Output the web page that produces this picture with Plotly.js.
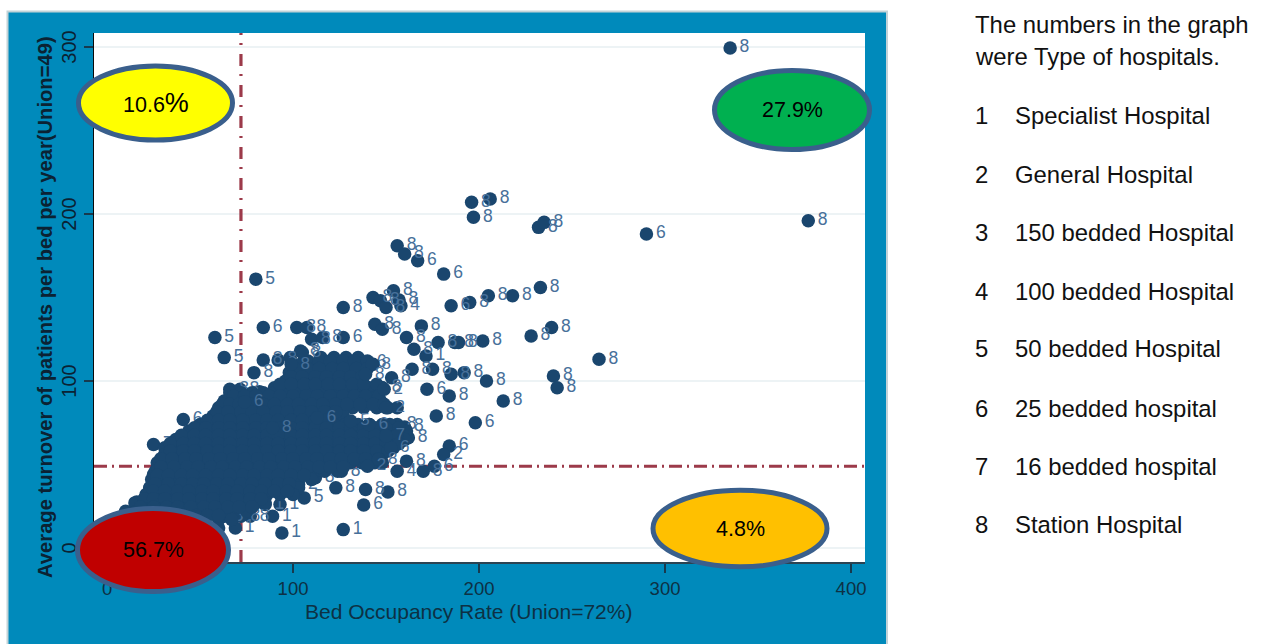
<!DOCTYPE html>
<html>
<head>
<meta charset="utf-8">
<script src="https://cdn.plot.ly/plotly-3.0.1.min.js"></script>
<style>html,body{margin:0;padding:0;background:#fff}</style>
</head>
<body>
<div id="chart" style="width:1264px;height:644px"></div>
<script>
// Isolated and edge points: occupancy, turnover, hospital type
const labelledX = [335,377,290,196,206,197,232,235,156,160,167,181,80,233,205,218,195,185,127,154,143,147,150,157,158,144,148,169,161,239,228,127,178,187,189,202,165,171.5,264.5,164,175,185,192,204,240,242,172,184,213,177,198,184,181,161,156,170,176,123,139,151,126,153,156,160,162,138,106,127,94,89,93,85,69,77,72,63,112,103,84,58,63,79,102,107.5,110,116,104,84,92,98.5,25,41,32,40,49,54,60,27,25,23,16,66,71.5,82,140,148,152];
const labelledY = [299.4,196,188,207,209,198,192,195,181,176,172,164,161,156,151,151,147,145,144,154,150,148,144,148.5,145,134,131,133,126,132,127,126,123,123,123,124,119,115,113,107,107,104,105,100,103,96,95,91,88,79,75,61,56,52,46,46,49,36,35,33.5,46,102,74,72.5,66,25.7,30,11,9,19,26,26,12,19,19,19,42,38,132,126,114,105,132,132,125,126,118,112.5,112.5,114,62,77,57.5,65,63.5,75,81,48,44,36,27.5,95,95,93.5,111,96,63];
const labelledType = ['8','8','6','8','8','8','8','8','8','8','6','6','5','8','8','8','8','6','8','8','8','8','8','8','4','8','8','8','8','8','8','6','8','8','8','8','8','1','8','8','8','8','8','8','8','8','6','8','8','8','6','6','2','8','4','8','6','8','8','8','8','8','8','8','8','6','5','1','1','1','1','1','1','8','8','8','8','2','6','5','5','8','8','8','8','8','8','8','8','8','7','6','2','7','6','6','6','8','8','8','8','8','8','6','6','8','6','2','6'];

// Dense cloud below the union-average lines, read row by row
const denseRowY = [114,110,105,100,96,93,88,84,79,74,70,65,60,56,51,46,41,36,32,27,22,17,12,
 112,107.5,102.5,98,91,86,81.5,76.5,72,67.5,62.5,58,53.5,48.5,43.5,38.5,34,29.5,24.5,19.5];
const denseRowX = [
 [115,122,128.5,135],
 [104,110.5,117,123.5,130,137,143],
 [98,105,111,118.5,124,131,137.5],
 [96,102.5,109,115,122,128,134],
 [90,96,103,109.5,116,122,129,135,141,148],
 [66,72,78,84,90,97,104,110,117,123.5,130,136,143],
 [63,69,76,82.5,89,95,102,108,115,121,128,134,141,147],
 [60,67,73,79,86,92,99,105,112,118,125,132,138,145,151,156],
 [57,63,70,76,83,89.5,96,102,109,115,122,127],
 [50,57,63,70,76,83,89,96,102,109,115.5,122,128,135,141,148,152],
 [44,50,57,63,70,76.5,83,89,96,102,109,115,122,128,134,141,147,153,161],
 [37,43,50,56,63,69,76,82,89,95,102,108,115,121,128,134.5,141,147,153,160],
 [31,38,44,50,57,63,70,76,83,89,96,102,109,115,122,128,135,141,148,154],
 [31,37,44,50.5,57,63,70,76,83,89,96.5,102,109,115,122,128,135,141,148],
 [27,33,40,46,53,59,66,72,79,85,92,98,105,111,118,124,131,137,144,148],
 [26,33,39,46,52,59,65,72,78,85,91,98,104,111,117,124],
 [24,30,37,43,50,56,63,69,76,82,89,95,102,110],
 [23,29,36,42,49,55,62,68,75,81,88,95,103],
 [21,28,34,41,47,54,60,67,73,80,86,93,100],
 [15,22,28,35,41,48,54,61,67,74,80,85],
 [10,16,23,29,36,42,49,55,62,68,75],
 [7,13,20,26,33,39,46,52,60,67],
 [7,13,20,26,33,40,50,60],
 [108,114,120,127,133,140],
 [101,108,114,121,127,134,140],
 [99,105,112,118,125,131,137],
 [93,99,106,112,119,125,132,138,145],
 [68,74,80,87,93,100,107,113,120,127,133,139,146],
 [62,66,71,77,84,90,97,103,110,116,123,129,136,143,149],
 [59,65,72,78,84,91,97,104,110,117,123],
 [54,60,66,73,80,86,92,99,105,112,118],
 [47,53,60,66,73,80,86,92,99,105,112,118,125,131,138,144,150,157],
 [40,47,53,60,66,73,79,86,92,99,105,112,118,125,131,138,144,150,156],
 [34,41,47,53,60,66,73,79,86,92,99,105,112,118,125,131,138,144,150,157],
 [34,41,47,54,60,66,73,79,86,92,99,105,112,118,125,131,138,145,151],
 [29,35,42,48,55,61,68,74,81,87,94,100,107,113,120,126,133,139,146],
 [29,36,43,49,56,62,69,75,82,88,95,101,108,114,120,127],
 [27,33,40,46,53,60,66,73,79,86,92,99,106],
 [26,33,40,46,52,59,65,72,78,85,92,98],
 [25,31,38,44,51,57,64,70,77,83,90,97],
 [20,25,31,38,44,51,57,64,70,77,83],
 [18,25,32,38,45,52,58,65,71,78],
 [15,22,28,35,41,48,54,60]
];

// Labels that show through the cloud
const topX = [74,105,131,141,150,149,146,140,142.5,139,152.5,150,89,113,99];
const topY = [87.5,117,76,74,84,95,53,49,110,104,60,67,72,78,110];
const topType = ['6','8','5','6','2','2','8','2','8','8','6','7','8','6','8'];

// Union reference values
const unionOccupancy = 72;
const unionTurnover = 49;
const xExtent = [-7, 407.5];
const yExtent = [-8.4, 308.4];
const xTicks = [0,100,200,300,400];
const yTicks = [0,100,200,300];

// Text
const xTitleText = 'Bed Occupancy Rate (Union=72%)';
const yTitleText = 'Average turnover of patients per bed per year(Union=49)';
const noteLines = ['The numbers in the graph','were Type of hospitals.'];
const typeNumbers = ['1','2','3','4','5','6','7','8'];
const typeNames = ['Specialist Hospital','General Hospital','150 bedded Hospital','100 bedded Hospital','50 bedded Hospital','25 bedded hospital','16 bedded hospital','Station Hospital'];
const noteY = [24,57];
const typeRowY = [115,174,232,291,349,408,466,524];

const ovals = [
 {label:'10.6<span style="font-size:27px">%</span>',cx:155.5,cy:103,rx:77,ry:37,fill:'#ffff00'},
 {label:'27.9%',cx:792,cy:110,rx:77.5,ry:39.5,fill:'#00b050'},
 {label:'56.7%',cx:153,cy:550,rx:75.5,ry:41.5,fill:'#c00000'},
 {label:'4.8%',cx:740,cy:528.5,rx:87,ry:38.3,fill:'#ffc000'}
];

const L=94,R=865,T=33,B=562;
const px=v=>(v-L)/(R-L), py=v=>(B-v)/(B-T);
const FONT='"Liberation Sans", Arial, sans-serif';
const NAVY='#1a466e', REF='#9c3a4a', LBL='#47709a';

const denseX=denseRowX.flat();
const denseY=denseRowX.flatMap((r,i)=>r.map(()=>denseRowY[i]));

const traces=[
 {x:xExtent,y:[unionTurnover,unionTurnover],mode:'lines',line:{color:REF,width:3,dash:'13px,5px,2px,5px'},hoverinfo:'skip'},
 {x:[unionOccupancy,unionOccupancy],y:yExtent,mode:'lines',line:{color:REF,width:3.2,dash:'12px,9px,2px,8px'},hoverinfo:'skip'},
 {x:labelledX,y:labelledY,text:labelledType,mode:'markers+text',textposition:'middle right',
  marker:{color:NAVY,size:13.5},textfont:{family:FONT,size:17.5,color:LBL},cliponaxis:false},
 {x:denseX,y:denseY,mode:'markers',marker:{color:NAVY,size:13.5}},
 {x:topX,y:topY,text:topType,mode:'markers+text',textposition:'middle right',
  marker:{color:NAVY,size:13.5},textfont:{family:FONT,size:17,color:LBL}}
];

const shapes=[
 {type:'rect',layer:'below',xref:'paper',yref:'paper',x0:px(7.5),x1:px(887),y0:py(660),y1:py(11.5),fillcolor:'#008abb',line:{color:'#c3d3d8',width:2}},
 {type:'rect',layer:'below',xref:'paper',yref:'paper',x0:0,x1:1,y0:0,y1:1,fillcolor:'#ffffff',line:{width:0}}
];
ovals.forEach(o=>shapes.push({type:'circle',layer:'above',xref:'paper',yref:'paper',
  x0:px(o.cx-o.rx),x1:px(o.cx+o.rx),y0:py(o.cy+o.ry),y1:py(o.cy-o.ry),fillcolor:o.fill,line:{color:'#3a5f8c',width:5}}));

const annotations=[];
const note=(text,x,y,size,extra)=>annotations.push(Object.assign({text,xref:'paper',yref:'paper',x:px(x),y:py(y),showarrow:false,xanchor:'left',yanchor:'middle',font:{family:FONT,size,color:'#111'}},extra||{}));
noteLines.forEach((t,i)=>note(t,973,noteY[i],23.9));
typeNumbers.forEach((t,i)=>{note(t,973,typeRowY[i],23.9);note(typeNames[i],1013,typeRowY[i],23.9);});
ovals.forEach(o=>note(o.label,o.cx,o.cy,21.5,{xanchor:'center',font:{family:FONT,size:21.5,color:'#000'}}));
note(xTitleText,468,611,21,{xanchor:'center',font:{family:FONT,size:21,color:'#0d3144'}});
note(yTitleText,45,307,20.2,{xanchor:'center',textangle:-90,font:{family:FONT,size:20.2,color:'#0b2233',weight:700}});

const layout={
 width:1264,height:644,autosize:false,showlegend:false,hovermode:false,
 margin:{l:L,r:1264-R,t:T,b:644-B,pad:0},
 paper_bgcolor:'#ffffff',plot_bgcolor:'#ffffff',
 font:{family:FONT},
 xaxis:{range:xExtent,tickmode:'array',tickvals:xTicks,ticktext:xTicks.map(String),ticks:'outside',ticklen:9,tickwidth:1.5,tickcolor:'#173a4e',
  showline:true,linecolor:'#2b4352',linewidth:2,showgrid:false,zeroline:false,tickfont:{family:FONT,size:18.5,color:'#0d3144'}},
 yaxis:{range:yExtent,tickmode:'array',tickvals:yTicks,ticktext:yTicks.map(String),ticks:'outside',ticklen:9,tickwidth:1.5,tickcolor:'#173a4e',tickangle:-90,
  ticklabelshift:3,
  showline:true,linecolor:'#0a0a0a',linewidth:1.5,showgrid:true,gridcolor:'#edf3f5',gridwidth:1.5,zeroline:false,tickfont:{family:FONT,size:20,color:'#0b2233'}},
 shapes,annotations
};
Plotly.newPlot('chart',traces,layout,{displayModeBar:false,staticPlot:true});
</script>
</body>
</html>
